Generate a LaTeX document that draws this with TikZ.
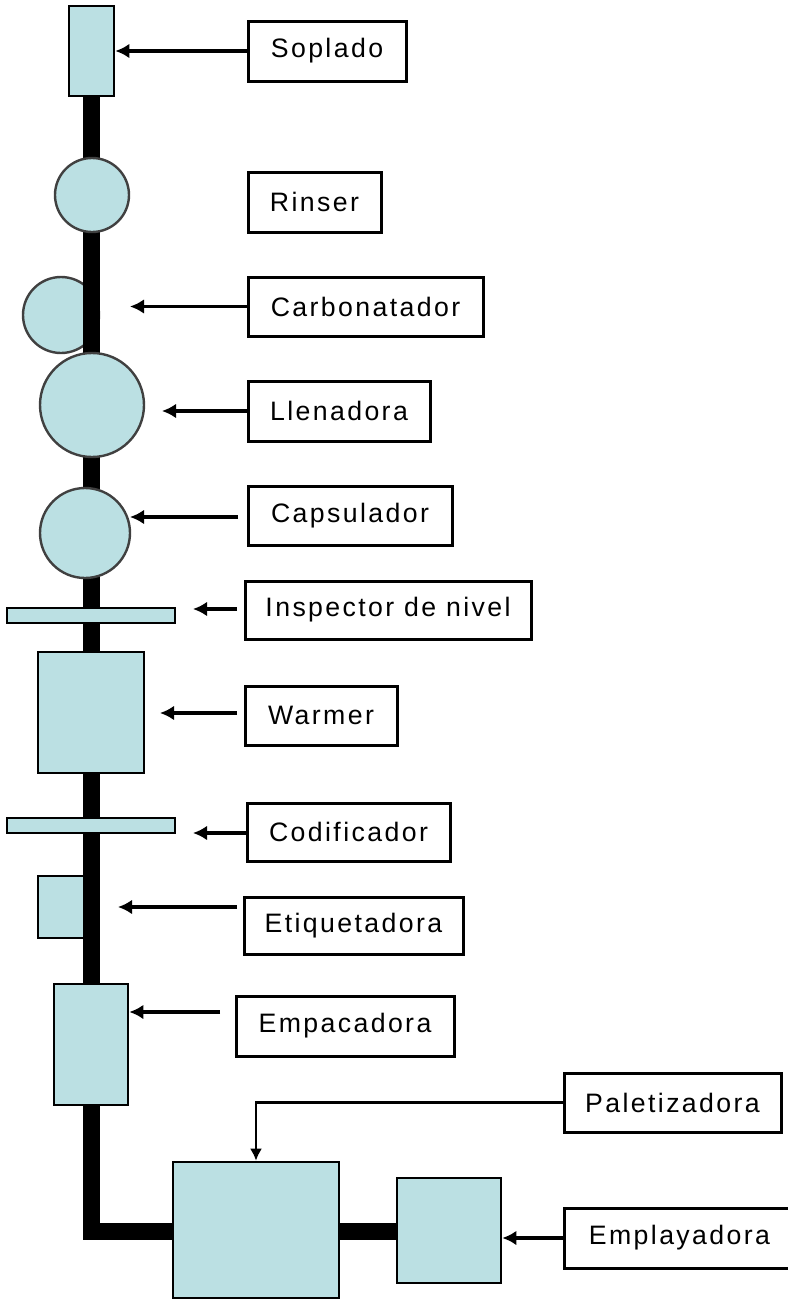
\documentclass[tikz,border=0pt]{standalone}
\usepackage{fontspec}
\setmainfont{Liberation Sans}[LetterSpace=9]
\usetikzlibrary{arrows.meta}
\definecolor{machfill}{RGB}{187,224,227}
\begin{document}
\begin{tikzpicture}[x=0.75pt,y=-0.75pt,
  lbl/.style={draw=black, line width=2.25pt, fill=white, inner sep=0pt, font=\fontsize{20}{22}\selectfont},
  mach/.style={draw=black, line width=2pt, fill=machfill, inner sep=0pt},
  wheel/.style={circle, draw=black!75, line width=1.8pt, fill=machfill, inner sep=0pt},
  feed/.style={line width=2.4pt, -{Latex[length=10.5pt,width=11pt]}},
  thinfeed/.style={line width=1.6pt, -{Latex[length=9pt,width=9pt]}},
  conveyor/.style={line width=12.75pt, line join=miter}]
\useasboundingbox (0,0) rectangle (788,1299);

% machine behind the conveyor
\node[wheel, minimum size=57pt] (carbM) at (61,315) {};

% conveyor
\coordinate (ltop) at (91.5,96);
\coordinate (lcorner) at (91.5,1231.5);
\coordinate (lend) at (400,1231.5);
\draw[conveyor] (ltop) -- (lcorner) -- (lend);

% machines
\node[mach, minimum width=33.75pt, minimum height=67.5pt] (soplM) at (91.5,51) {};
\node[wheel, minimum size=55.5pt] (rinsM) at (92,195) {};
\node[wheel, minimum size=78pt] (llenM) at (92,405) {};
\node[wheel, minimum size=67.5pt] (capsM) at (85,533) {};
\node[mach, minimum width=126pt, minimum height=11.25pt] (inspM) at (91,615.5) {};
\node[mach, minimum width=79.5pt, minimum height=90.75pt] (warmM) at (91,712.5) {};
\node[mach, minimum width=126pt, minimum height=11.25pt] (codiM) at (91,825.5) {};
\node[mach, minimum width=34.5pt, minimum height=46.5pt] (etiqM) at (61,907) {};
\node[mach, minimum width=55.5pt, minimum height=90.75pt] (empaM) at (91,1044.5) {};
\node[mach, minimum width=124.5pt, minimum height=102pt] (paleM) at (256,1230) {};
\node[mach, minimum width=78pt, minimum height=78.75pt] (emplM) at (449,1230.5) {};

% labels
\node[lbl, minimum width=118.5pt, minimum height=45pt] (soplL) at (327,51) {Soplado};
\node[lbl, minimum width=99.75pt, minimum height=45pt] (rinsL) at (314.5,202) {Rinser};
\node[lbl, minimum width=176.25pt, minimum height=44.25pt] (carbL) at (365.5,306.5) {Carbonatador};
\node[lbl, minimum width=136.5pt, minimum height=45pt] (llenL) at (339,411) {Llenadora};
\node[lbl, minimum width=153pt, minimum height=44.25pt] (capsL) at (350,515.5) {Capsulador};
\node[lbl, minimum width=214.5pt, minimum height=43.5pt] (inspL) at (388,610) {Inspector de nivel};
\node[lbl, minimum width=114pt, minimum height=44.25pt] (warmL) at (321,715.5) {Warmer};
\node[lbl, minimum width=152.25pt, minimum height=43.5pt] (codiL) at (348.5,832) {Codificador};
\node[lbl, minimum width=164.25pt, minimum height=42.75pt] (etiqL) at (353.5,925.5) {Etiquetadora};
\node[lbl, minimum width=163.5pt, minimum height=45pt] (empaL) at (345,1026) {Empacadora};
\node[lbl, minimum width=162.75pt, minimum height=44.25pt] (paleL) at (672.5,1102.5) {Paletizadora};
\node[lbl, minimum width=173.25pt, minimum height=45pt] (emplL) at (679.5,1238) {Emplayadora};

% arrow end points
\coordinate (carbT) at (130,307);
\coordinate (llenT) at (162,412);
\coordinate (capsS) at (238,517);
\coordinate (capsT) at (130,517);
\coordinate (inspS) at (237,609);
\coordinate (inspT) at (193,609);
\coordinate (warmS) at (237,713);
\coordinate (warmT) at (160,713);
\coordinate (codiT) at (193,833);
\coordinate (etiqS) at (237,907);
\coordinate (etiqT) at (118,907);
\coordinate (empaS) at (220,1012);
\coordinate (paleK) at (256,1102.5);

% connectors
\draw[feed] (soplL.west) -- (soplM.east);
\draw[feed] (carbL.west) -- (carbL.west -| carbT);
\draw[feed] (llenL.west) -- (llenL.west -| llenT);
\draw[feed] (capsS) -- (capsT);
\draw[feed] (inspS) -- (inspT);
\draw[feed] (warmS) -- (warmT);
\draw[feed] (codiL.west |- codiT) -- (codiT);
\draw[feed] (etiqS) -- (etiqT);
\draw[feed] (empaS) -- (empaS -| empaM.east);
\draw[thinfeed] (paleL.west) -- (paleK) -- (paleM.north);
\draw[feed] (emplL.west) -- (emplL.west -| emplM.east);
\end{tikzpicture}
\end{document}
